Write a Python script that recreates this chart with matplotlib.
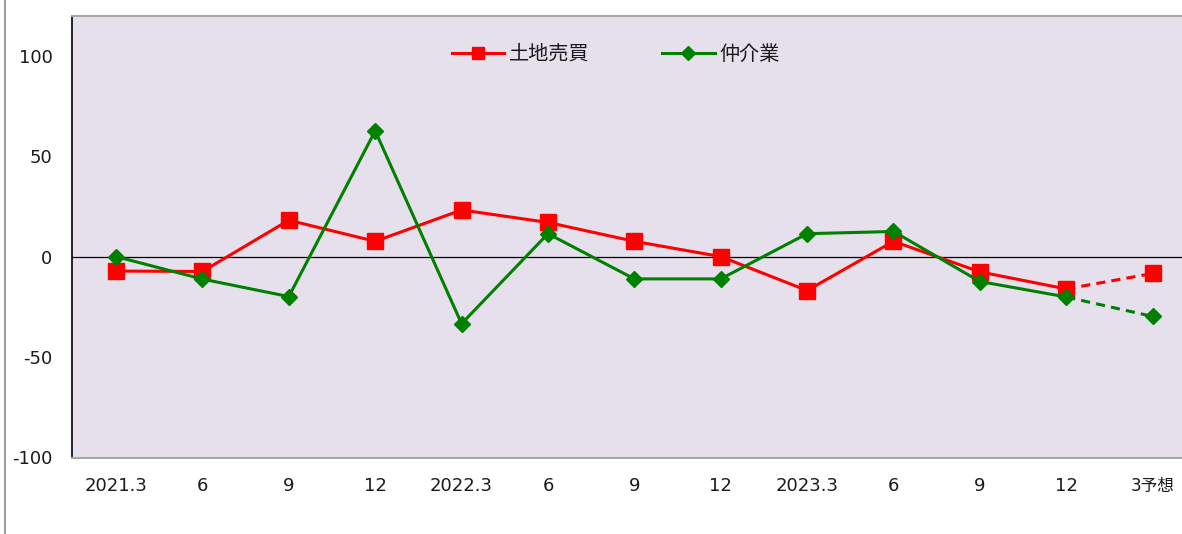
import numpy as np
import matplotlib
matplotlib.use('Agg')
import matplotlib.pyplot as plt
from matplotlib.lines import Line2D

plt.rcParams['font.family'] = ['DejaVu Sans', 'Noto Sans CJK JP']
plt.rcParams['axes.unicode_minus'] = False

# quarter labels
labels = ['2021.3', '6', '9', '12', '2022.3', '6', '9', '12', '2023.3', '6', '9', '12', '3予想']
# DI values (last one is the forecast)
land = [-7.2, -7.4, 18.1, 7.6, 23.2, 17.0, 7.6, 0.0, -16.9, 7.6, -7.6, -16.1, -8.4]
broker = [0.0, -11.2, -19.9, 62.6, -33.4, 11.4, -11.1, -11.1, 11.4, 12.5, -12.4, -20.1, -29.8]

red = '#FF0000'
green = '#008000'

x = np.arange(len(labels))

fig = plt.figure(figsize=(11.82, 5.34), dpi=100)
ax = fig.add_axes([72 / 1182, 1 - 457.5 / 534, 1 - 72 / 1182, (457.5 - 15.5) / 534])
ax.set_facecolor('#E6E0EC')

# actual values: solid
ax.plot(x[:-1], land[:-1], color=red, lw=2.2, marker='s', ms=11, label='土地売買', zorder=3)
ax.plot(x[:-1], broker[:-1], color=green, lw=2.2, marker='D', ms=8, label='仲介業', zorder=4)
# forecast: dashed
ax.plot(x[-2:], land[-2:], color=red, lw=2.2, ls=(0, (3, 2)), zorder=3)
ax.plot(x[-1:], land[-1:], color=red, marker='s', ms=11, ls='none', zorder=3)
ax.plot(x[-2:], broker[-2:], color=green, lw=2.2, ls=(0, (3, 2)), zorder=4)
ax.plot(x[-1:], broker[-1:], color=green, marker='D', ms=8, ls='none', zorder=4)

ax.axhline(0, color='black', lw=0.9, zorder=2)

ax.set_xlim(-0.51, 12.34)
ax.set_ylim(-100, 120)
ax.set_yticks([-100, -50, 0, 50, 100])
ax.set_xticks(x)
ax.set_xticklabels(labels)
ax.tick_params(axis='both', length=0, labelsize=13, colors='#1a1a1a')
ax.tick_params(axis='y', pad=14)
ax.tick_params(axis='x', pad=14)
ax.get_xticklabels()[-1].set_fontsize(12)

ax.spines['left'].set_color('black')
ax.spines['left'].set_linewidth(1.2)
ax.spines['top'].set_color('#A6A6A6')
ax.spines['top'].set_linewidth(1.5)
ax.spines['bottom'].set_color('#A6A6A6')
ax.spines['bottom'].set_linewidth(1.5)
ax.spines['right'].set_visible(False)

leg = ax.legend(loc='upper center', bbox_to_anchor=(0.49, 0.975), ncol=2, frameon=False,
                fontsize=14.5, handlelength=2.6, columnspacing=3.6, markerscale=0.85,
                handletextpad=0.25)
for t in leg.get_texts():
    t.set_color('#1a1a1a')

# outer border line on the left
fig.add_artist(Line2D([4.5 / 1182, 4.5 / 1182], [0, 1], transform=fig.transFigure,
                      color='#A0A0A0', lw=1.5))

fig.savefig('out.png', dpi=100)
